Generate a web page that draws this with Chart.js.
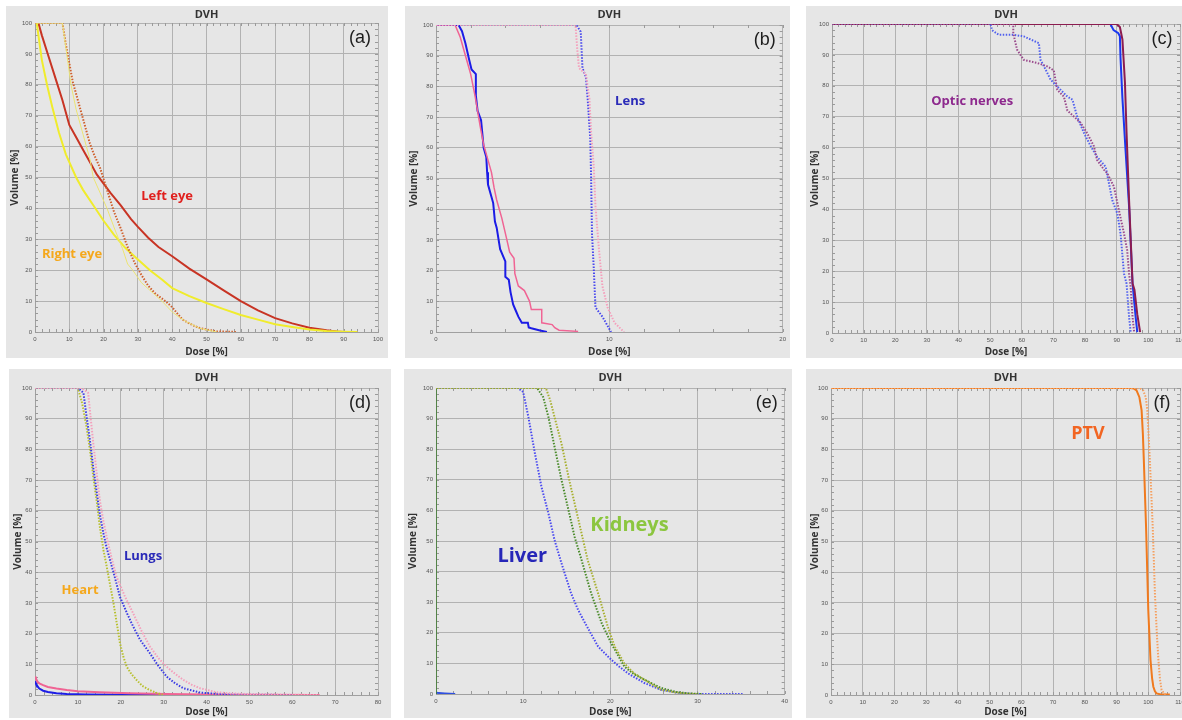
<!DOCTYPE html>
<html lang="en">
<head>
    <meta charset="UTF-8">
    <title>DVH panels</title>
    <script src="https://cdn.jsdelivr.net/npm/chart.js"></script>
    <style>
        body { margin: 0; width: 1182px; height: 720px; overflow: hidden; position: relative; background: #fff; }
        canvas { position: absolute; background: #e6e6e6; }
    </style>
</head>
<body>
    <canvas id="chartA" width="382" height="352" style="left:6px;top:6px"></canvas>
    <canvas id="chartB" width="385" height="352" style="left:405px;top:6px"></canvas>
    <canvas id="chartC" width="390" height="352" style="left:806px;top:6px"></canvas>
    <canvas id="chartD" width="382" height="349" style="left:9px;top:369px"></canvas>
    <canvas id="chartE" width="388" height="349" style="left:404px;top:369px"></canvas>
    <canvas id="chartF" width="390" height="349" style="left:806px;top:369px"></canvas>
    <script>
        // (a) eyes
        const leftEyeDose = [1, 2, 4, 6, 8, 10, 12, 14, 16, 18, 20, 22, 25, 28, 30, 33, 36, 40, 45, 50, 55, 60, 65, 70, 75, 80, 85, 88, 90];
        const leftEyeVol = [100, 96, 89, 82, 75, 67, 63, 59, 55, 51, 48, 45, 41, 36.5, 34, 30.5, 27.5, 24.5, 20.5, 17, 13.5, 10, 7, 4.5, 2.8, 1.4, 0.6, 0.2, 0];
        const rightEyeDose = [0.5, 1, 2, 3.5, 5, 7, 9, 12, 14, 17, 20, 23, 26.5, 30, 33.5, 37, 40, 45, 50, 55, 60, 65, 70, 75, 80, 85, 90, 94];
        const rightEyeVol = [100, 96, 88, 80, 73, 64.5, 57.5, 50, 46, 41, 36, 31.5, 27, 23.5, 20, 17, 14.2, 11.6, 9.4, 7.4, 5.5, 4, 2.5, 1.6, 0.8, 0.3, 0.1, 0];
        const leftEyeDotDose = [0, 8, 9, 10, 11, 12, 14, 16, 17, 19, 21, 23, 25, 27, 29, 31, 33, 35, 38, 40, 43, 46, 48, 50, 53, 59];
        const leftEyeDotVol = [100, 100, 93, 87, 81, 77, 69, 61, 58, 53, 46, 39, 33.5, 27.5, 22.5, 18.5, 15, 12.5, 10, 8, 4, 2.2, 1.3, 0.8, 0.2, 0];
        const rightEyeDotDose = [0, 8, 9, 10.5, 12, 14, 16, 17, 19, 21, 23, 25.5, 27, 28.5, 31, 34.5, 37, 40, 42, 44, 48, 53];
        const rightEyeDotVol = [100, 100, 92, 80, 72, 64, 56, 50, 45, 40, 34, 27, 22, 20, 16, 12.5, 10, 6.5, 4.8, 3.4, 1.2, 0];

        // (b) lens
        const lensBlueDose = [0, 1.3, 1.5, 1.7, 1.9, 2.05, 2.3, 2.3, 2.4, 2.6, 2.7, 2.75, 2.9, 2.95, 3.0, 3.3, 3.4, 3.5, 3.7, 4.0, 4.0, 4.2, 4.3, 4.45, 4.6, 4.75, 4.95, 5.3, 5.35, 5.5, 6.0, 6.4];
        const lensBlueVol = [100, 100, 98, 94, 89, 85.5, 84, 77, 72, 69, 63, 60, 57, 52, 48, 42, 36, 34, 27, 23, 18, 17, 13, 9, 7, 5, 3, 3, 1.5, 1.2, 0.5, 0];
        const lensPinkDose = [0, 1.1, 1.4, 1.7, 2.0, 2.25, 2.55, 2.75, 3.0, 3.2, 3.35, 3.5, 3.8, 4.05, 4.25, 4.5, 4.55, 4.75, 5.1, 5.4, 5.5, 6.1, 6.1, 6.7, 6.85, 7.1, 8.2];
        const lensPinkVol = [100, 100, 96, 90, 84, 77, 67, 61, 56, 52, 47, 43, 37, 31, 26, 24, 19, 15, 13.5, 10, 7.3, 7.3, 3, 2.4, 1.4, 0.6, 0.2];
        const lensBlueDotDose = [0, 8.1, 8.35, 8.45, 8.65, 8.75, 8.9, 8.95, 9.0, 9.1, 9.2, 9.6, 10.1];
        const lensBlueDotVol = [100, 100, 97.8, 86, 83, 76, 63, 50, 32, 21, 8, 5, 0];
        const lensPinkDotDose = [0, 8.05, 8.15, 8.25, 8.65, 8.85, 8.95, 9.1, 9.2, 9.4, 9.6, 9.9, 10.3, 10.85];
        const lensPinkDotVol = [100, 100, 92, 86, 84, 76, 65, 54, 41, 27, 15, 8, 3, 0];

        // (c) optic nerves
        const nerveMaroonDose = [0, 90, 91, 91.8, 92.6, 93.1, 93.9, 95, 95.6, 96.5, 97.4];
        const nerveMaroonVol = [100, 100, 99, 95, 81, 65, 43, 16, 14, 6, 0.3];
        const nerveBlueDose = [0, 88, 89, 90.5, 91, 91.2, 91.8, 92.8, 93.9, 95, 96, 96.5];
        const nerveBlueVol = [100, 100, 98, 97, 96, 89, 76, 59, 41, 16, 5, 0.3];
        const nervePurpleDotDose = [0, 57.3, 57.3, 58.5, 60.6, 64.8, 68, 70.1, 71.2, 73.3, 74.4, 76.5, 78.6, 80.7, 82.8, 83.8, 86, 87, 89.1, 90.7, 92.3, 93.3, 93.9, 94.4, 95, 95.5];
        const nervePurpleDotVol = [100, 100, 97, 91.7, 88.4, 87.4, 86.3, 85, 78.7, 76.5, 72, 70, 68, 64.6, 60.4, 56, 52.8, 51.7, 47.4, 39.7, 32.2, 26.8, 19.2, 14.9, 5.2, 0.3];
        const nerveBlueDotDose = [0, 50.1, 50.6, 52.7, 57.5, 60.6, 65.4, 65.9, 67, 69.1, 71.2, 74.4, 76, 77.5, 79.7, 81.8, 83.8, 86.5, 88.6, 90.2, 91.2, 92.3, 93.1, 93.9, 94.4];
        const nerveBlueDotVol = [100, 100, 98, 96.5, 96.5, 96, 93.8, 88.4, 86.3, 82, 79.8, 76.5, 75.5, 70, 64.6, 60.4, 57, 53.8, 43, 38.6, 32.2, 19.2, 16, 5.2, 0.3];

        // (d) heart and lungs
        const heartDotDose = [0, 10, 11, 12, 13, 13.6, 14.5, 15.1, 16, 16.7, 17.5, 18.3, 19, 19.8, 20.6, 21.4, 22.5, 23.7, 25, 26.8, 28.5, 30];
        const heartDotVol = [100, 100, 95, 87.5, 78, 71, 62, 55, 47, 42, 36, 30, 24, 17, 12.5, 9.2, 6.8, 4.9, 3, 1.6, 0.6, 0];
        const lungBlueDotDose = [0, 10.1, 11.3, 12, 12.8, 13.6, 14.4, 15.1, 15.9, 16.7, 17.5, 18.5, 19.8, 21.5, 22.9, 24.5, 26.8, 28.5, 30.7, 32.5, 34.6, 38.5, 42.3, 50, 60];
        const lungBlueDotVol = [100, 100, 98.4, 91, 83, 74, 66, 59, 53, 48, 44, 39, 32, 26.5, 22.3, 18, 13.6, 10, 6, 4, 2.2, 0.8, 0.4, 0.1, 0];
        const lungPinkDotDose = [0, 10.9, 12.4, 13, 13.6, 14.4, 15.1, 15.9, 16.7, 17.8, 19, 21, 22.9, 24.8, 26.8, 28.8, 30.7, 32.6, 34.6, 36.5, 38.5, 42.3, 46, 50.1, 58, 66.4];
        const lungPinkDotVol = [100, 100, 98.4, 90, 82, 72, 63.6, 57, 51.6, 45, 38.6, 32, 26.6, 21, 15.8, 12, 9.2, 7, 4.9, 3.4, 2.2, 0.9, 0.5, 0.3, 0.1, 0];
        const heartSolidDose = [0, 0.2, 0.6, 1, 1.9, 3, 5, 7.4, 12, 20, 33.8];
        const heartSolidVol = [4.5, 3.8, 2.8, 2.1, 1.4, 1.0, 0.6, 0.35, 0.2, 0.1, 0];
        const lungSolidDose = [0, 0.2, 0.6, 1, 1.9, 3, 5, 7.4, 10, 15, 22, 30.7, 40, 46, 66.4];
        const lungSolidVol = [6, 5.4, 4.3, 3.8, 3.2, 2.6, 2.1, 1.6, 1.2, 0.9, 0.6, 0.3, 0.2, 0.1, 0];

        // (e) liver and kidneys
        const liverDotDose = [0, 9.4, 10, 10.6, 11.35, 12.1, 12.9, 13.6, 14.4, 15.5, 16.3, 17.1, 18.6, 20.1, 21, 22, 23.9, 25.8, 27.5, 29.6, 35.2];
        const liverDotVol = [100, 100, 98.7, 90.5, 78.6, 67.7, 59, 50.3, 42.7, 32.9, 27.5, 23.2, 15.5, 11.2, 9, 6.8, 3.6, 1.4, 0.5, 0, 0];
        const kidneyGreenDotDose = [0, 11.6, 12.3, 12.9, 13.6, 14.4, 15.2, 15.9, 16.7, 17.8, 19, 20.1, 21.6, 22.7, 23.9, 25.8, 27.5, 28.9, 30.5];
        const kidneyGreenDotVol = [100, 100, 97, 90.5, 80.8, 69.9, 60.1, 51.4, 43.8, 32.9, 23.2, 16.6, 9, 6.5, 4.7, 2, 0.7, 0.2, 0];
        const kidneyOliveDotDose = [0, 12.6, 13.1, 13.6, 14.4, 15.2, 15.9, 16.7, 17.4, 18.6, 19.7, 20.5, 21.6, 22.7, 23.9, 25.8, 27.5, 28.9, 30];
        const kidneyOliveDotVol = [100, 100, 96, 90.5, 81.8, 71, 62.3, 52.5, 43.8, 32.9, 22.1, 15.5, 10, 6.8, 4.7, 1.4, 0.5, 0.1, 0];
        const kidneySolidDose = [0, 0];
        const kidneySolidVol = [100, 0];
        const liverSolidDose = [0, 1, 2.2];
        const liverSolidVol = [0.4, 0.2, 0];

        // (f) PTV
        const ptvSolidDose = [0, 94.3, 95.5, 96.3, 97.2, 97.9, 98.3, 98.6, 99.3, 100, 100.7, 101.2, 101.6, 102.1, 102.6, 104, 106.8];
        const ptvSolidVol = [100, 100, 99.8, 99.2, 97, 92.7, 85, 76.5, 54.8, 27.7, 11.4, 5.5, 2.7, 1.2, 0.5, 0.2, 0.2];
        const ptvDotDose = [0, 96.3, 97.5, 98.4, 99.2, 99.7, 100.5, 101.4, 102.1, 102.7, 103.2, 103.7, 104.2, 105, 105.8];
        const ptvDotVol = [100, 100, 99.8, 99.2, 97, 92.7, 76.5, 54.8, 33, 20, 11.4, 5, 1.6, 0.5, 0];

        const DOT = [1.5, 1.5];

        const panels = [
            { id: 'chartA', xMax: 100, yw: 29, xh: 26, th: 17, pr: 10, letter: '(a)',
              series: [
                  { dose: rightEyeDotDose, vol: rightEyeDotVol, color: '#ece474', width: 1 },
                  { dose: leftEyeDotDose, vol: leftEyeDotVol, color: '#d0602c', width: 2, dash: DOT },
                  { dose: rightEyeDose, vol: rightEyeVol, color: '#f0ec2c', width: 2 },
                  { dose: leftEyeDose, vol: leftEyeVol, color: '#c83424', width: 2 }
              ],
              notes: [
                  { text: 'Left eye', x: 38.5, y: 44, color: '#e0201e', size: 13 },
                  { text: 'Right eye', x: 10.8, y: 25, color: '#f5a81c', size: 13 }
              ] },
            { id: 'chartB', xMax: 20, yw: 31, xh: 26, th: 19, pr: 5, letter: '(b)',
              series: [
                  { dose: lensPinkDotDose, vol: lensPinkDotVol, color: '#f4a0bc', width: 2, dash: DOT },
                  { dose: lensBlueDotDose, vol: lensBlueDotVol, color: '#4848ee', width: 2, dash: DOT },
                  { dose: lensPinkDose, vol: lensPinkVol, color: '#f06494', width: 1.5 },
                  { dose: lensBlueDose, vol: lensBlueVol, color: '#1c1ce6', width: 2 }
              ],
              notes: [
                  { text: 'Lens', x: 11.2, y: 75, color: '#2a2ab8', size: 13 }
              ] },
            { id: 'chartC', xMax: 110, yw: 26, xh: 25, th: 18, pr: 16, letter: '(c)',
              series: [
                  { dose: nervePurpleDotDose, vol: nervePurpleDotVol, color: '#9a4a8c', width: 2, dash: DOT },
                  { dose: nerveBlueDotDose, vol: nerveBlueDotVol, color: '#5060ee', width: 2, dash: DOT },
                  { dose: nerveMaroonDose, vol: nerveMaroonVol, color: '#8c1c50', width: 2 },
                  { dose: nerveBlueDose, vol: nerveBlueVol, color: '#1a38f0', width: 2 }
              ],
              notes: [
                  { text: 'Optic nerves', x: 44.3, y: 75, color: '#8e2a8e', size: 13 }
              ] },
            { id: 'chartD', xMax: 80, yw: 26, xh: 23, th: 19, pr: 13, letter: '(d)',
              series: [
                  { dose: lungPinkDotDose, vol: lungPinkDotVol, color: '#f4a0bc', width: 2, dash: DOT },
                  { dose: lungBlueDotDose, vol: lungBlueDotVol, color: '#3c3ce4', width: 2, dash: DOT },
                  { dose: heartDotDose, vol: heartDotVol, color: '#b8c030', width: 2, dash: DOT },
                  { dose: lungSolidDose, vol: lungSolidVol, color: '#f06494', width: 2 },
                  { dose: heartSolidDose, vol: heartSolidVol, color: '#1e1ee6', width: 2 }
              ],
              notes: [
                  { text: 'Lungs', x: 25.2, y: 45.3, color: '#2a2ab8', size: 13 },
                  { text: 'Heart', x: 10.5, y: 34, color: '#f5a81c', size: 13 }
              ] },
            { id: 'chartE', xMax: 40, yw: 32, xh: 24, th: 19, pr: 7, letter: '(e)',
              series: [
                  { dose: kidneyOliveDotDose, vol: kidneyOliveDotVol, color: '#a8b030', width: 2, dash: DOT },
                  { dose: kidneyGreenDotDose, vol: kidneyGreenDotVol, color: '#4a8a2a', width: 2, dash: DOT },
                  { dose: liverDotDose, vol: liverDotVol, color: '#4a4af0', width: 2, dash: DOT },
                  { dose: kidneySolidDose, vol: kidneySolidVol, color: '#3a7a2a', width: 1.5 },
                  { dose: liverSolidDose, vol: liverSolidVol, color: '#3050e0', width: 2 }
              ],
              notes: [
                  { text: 'Liver', x: 9.9, y: 45, color: '#2626b8', size: 20 },
                  { text: 'Kidneys', x: 22.2, y: 55, color: '#8cc63f', size: 20 }
              ] },
            { id: 'chartF', xMax: 110, yw: 25, xh: 23, th: 19, pr: 16, letter: '(f)',
              series: [
                  { dose: ptvDotDose, vol: ptvDotVol, color: '#f5a060', width: 2, dash: DOT },
                  { dose: ptvSolidDose, vol: ptvSolidVol, color: '#f07a1e', width: 2 }
              ],
              notes: [
                  { text: 'PTV', x: 81, y: 85, color: '#f26522', size: 18 }
              ] }
        ];

        // minor tick marks on the four edges, every 2 units
        const minorTicks = {
            id: 'minorTicks',
            beforeDatasetsDraw(chart) {
                const { ctx, chartArea: a, scales: { x, y } } = chart;
                ctx.save();
                ctx.strokeStyle = '#9a9a9a';
                ctx.lineWidth = 1;
                ctx.beginPath();
                for (let v = 0; v <= x.max; v += 2) {
                    const px = Math.round(x.getPixelForValue(v)) + 0.5;
                    ctx.moveTo(px, a.bottom); ctx.lineTo(px, a.bottom - 3);
                    ctx.moveTo(px, a.top); ctx.lineTo(px, a.top + 3);
                }
                for (let v = 0; v <= 100; v += 2) {
                    const py = Math.round(y.getPixelForValue(v)) + 0.5;
                    ctx.moveTo(a.left, py); ctx.lineTo(a.left + 3, py);
                    ctx.moveTo(a.right, py); ctx.lineTo(a.right - 3, py);
                }
                ctx.stroke();
                ctx.restore();
            }
        };

        // organ names and panel letter
        const notesPlugin = {
            id: 'notes',
            afterDatasetsDraw(chart, args, opts) {
                const { ctx, chartArea: a, scales: { x, y } } = chart;
                ctx.save();
                ctx.textAlign = 'center';
                ctx.textBaseline = 'middle';
                opts.notes.forEach(n => {
                    ctx.font = `bold ${n.size}px "Open Sans", sans-serif`;
                    ctx.fillStyle = n.color;
                    ctx.fillText(n.text, x.getPixelForValue(n.x), y.getPixelForValue(n.y));
                });
                ctx.font = '18px "Liberation Sans", Arial, sans-serif';
                ctx.fillStyle = '#1e1e1e';
                ctx.fillText(opts.letter, a.right - 18, a.top + 15);
                ctx.restore();
            }
        };

        panels.forEach(p => {
            const datasets = p.series.map(s => ({
                data: s.dose.map((d, i) => ({ x: d, y: s.vol[i] })),
                borderColor: s.color,
                borderWidth: s.width,
                borderDash: s.dash || [],
                pointRadius: 0,
                tension: 0,
                fill: false,
                showLine: true
            }));

            new Chart(document.getElementById(p.id), {
                type: 'scatter',
                data: { datasets: datasets },
                plugins: [minorTicks, notesPlugin],
                options: {
                    responsive: false,
                    animation: false,
                    devicePixelRatio: 1,
                    layout: { padding: { right: p.pr, left: 0, top: 0, bottom: 0 } },
                    plugins: {
                        legend: { display: false },
                        tooltip: { enabled: false },
                        title: {
                            display: true,
                            text: 'DVH',
                            fullSize: false,
                            color: '#333',
                            font: { family: 'Open Sans', size: 11, weight: 'bold', lineHeight: 1.2 },
                            padding: { top: 2, bottom: p.th - 2 - 13.2 }
                        },
                        notes: { notes: p.notes, letter: p.letter }
                    },
                    scales: {
                        x: {
                            type: 'linear',
                            min: 0,
                            max: p.xMax,
                            afterFit: scale => { scale.height = p.xh; },
                            ticks: { stepSize: 10, autoSkip: false, maxRotation: 0, padding: 4,
                                     color: '#555', font: { family: 'Liberation Sans', size: 6 } },
                            grid: { color: '#b2b2b2', lineWidth: 1, drawTicks: false },
                            border: { color: '#a0a0a0' },
                            title: { display: true, text: 'Dose [%]', color: '#333',
                                     font: { family: 'Open Sans', size: 10, weight: 'bold' },
                                     padding: { top: 0, bottom: 0 } }
                        },
                        y: {
                            type: 'linear',
                            min: 0,
                            max: 100,
                            afterFit: scale => { scale.width = p.yw; },
                            ticks: { stepSize: 10, autoSkip: false, padding: 3,
                                     color: '#555', font: { family: 'Liberation Sans', size: 6 } },
                            grid: { color: '#b2b2b2', lineWidth: 1, drawTicks: false },
                            border: { color: '#a0a0a0' },
                            title: { display: true, text: 'Volume [%]', color: '#333',
                                     font: { family: 'Open Sans', size: 10, weight: 'bold' },
                                     padding: { top: 3, bottom: 0 } }
                        }
                    }
                }
            });
        });
    </script>
</body>
</html>
